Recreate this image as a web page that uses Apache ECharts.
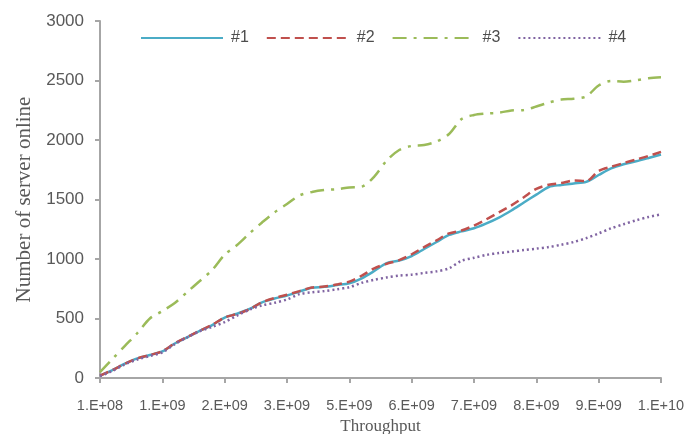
<!DOCTYPE html>
<html>
<head>
<meta charset="utf-8">
<script src="https://cdn.jsdelivr.net/npm/echarts@6/dist/echarts.min.js"></script>
<style>html,body{margin:0;padding:0;background:#fff}#c{width:689px;height:434px}</style>
</head>
<body>
<div id="c"></div>
<script>
// tick labels shown on the x axis (one every 5 categories)
const tickLabels = ['1.E+08','1.E+09','2.E+09','3.E+09','5.E+09','6.E+09','7.E+09','8.E+09','9.E+09','1.E+10'];
const pointsPerTick = 5;
const seriesNames = ['#1','#2','#3','#4'];
const s1 = [20,67,120,165,193,223,290,342,395,445,508,540,580,636,668,693,727,758,766,781,796,838,899,966,987,1025,1084,1143,1202,1232,1258,1299,1348,1408,1475,1541,1605,1622,1635,1648,1706,1762,1796,1821,1849,1878];
const s2 = [20,67,120,165,193,225,292,345,398,448,508,538,578,636,672,700,730,760,768,785,810,860,922,960,990,1040,1100,1157,1215,1240,1281,1334,1392,1451,1519,1590,1624,1638,1660,1655,1740,1775,1806,1836,1866,1900];
const s3 = [50,160,270,378,500,563,630,723,815,908,1036,1118,1216,1307,1392,1462,1534,1563,1580,1586,1601,1608,1693,1827,1916,1950,1958,1987,2050,2176,2210,2222,2230,2248,2252,2281,2315,2340,2347,2366,2458,2496,2490,2502,2519,2527];
const s4 = [15,60,115,155,185,215,285,342,393,430,470,525,575,610,632,660,705,720,730,746,763,800,825,845,860,868,883,896,922,985,1010,1035,1050,1062,1075,1087,1100,1120,1143,1175,1215,1258,1292,1325,1353,1375];

const nCat = (tickLabels.length - 1) * pointsPerTick + 1;
const categories = [];
for (let i = 0; i < nCat; i++) categories.push(i % pointsPerTick === 0 ? tickLabels[i / pointsPerTick] : String(i));

const chart = echarts.init(document.getElementById('c'), null, {renderer: 'canvas'});
const colors = ['#4bacc6', '#c0504d', '#9bbb59', '#8064a2'];
const dashes = ['solid', [9, 5], [14, 7, 3, 7], [2, 3]];
const data = [s1, s2, s3, s4];

chart.setOption({
  animation: false,
  color: colors,
  grid: {left: 100, right: 28, top: 21, bottom: 56, containLabel: false, outerBoundsMode: 'none'},
  legend: {
    left: 140, top: 30, padding: 0,
    itemWidth: 82, itemHeight: 12, itemGap: 17,
    itemStyle: {opacity: 0, borderWidth: 0},
    textStyle: {fontFamily: 'Liberation Sans', fontSize: 16, color: '#4d4d4d', padding: [0,0,0,3]},
    data: seriesNames
  },
  xAxis: {
    type: 'category',
    data: categories,
    boundaryGap: false,
    name: 'Throughput',
    nameLocation: 'middle',
    nameGap: 37,
    nameTextStyle: {fontFamily: 'Liberation Serif', fontSize: 17, color: '#595959'},
    axisLine: {lineStyle: {color: '#a6a6a6', width: 2}},
    axisTick: {interval: pointsPerTick - 1, length: 5, lineStyle: {color: '#a6a6a6', width: 2}},
    axisLabel: {interval: pointsPerTick - 1, margin: 20, fontFamily: 'Liberation Sans', fontSize: 14.5, color: '#595959'},
    splitLine: {show: false}
  },
  yAxis: {
    type: 'value',
    min: 0, max: 3000, interval: 500,
    name: 'Number of server online',
    nameLocation: 'middle',
    nameGap: 49,
    nameTextStyle: {fontFamily: 'Liberation Serif', fontSize: 21, color: '#595959'},
    axisLine: {show: true, lineStyle: {color: '#a6a6a6', width: 2}},
    axisTick: {show: true, length: 5, lineStyle: {color: '#a6a6a6', width: 2}},
    axisLabel: {margin: 16, fontFamily: 'Liberation Sans', fontSize: 17, color: '#595959', formatter: v => String(v)},
    splitLine: {show: false}
  },
  series: data.map((d, k) => ({
    name: seriesNames[k],
    type: 'line',
    data: d,
    smooth: 0.3,
    symbol: 'none',
    lineStyle: {color: colors[k], width: 2.5, type: dashes[k]},
    itemStyle: {color: colors[k]}
  }))
});
</script>
</body>
</html>
